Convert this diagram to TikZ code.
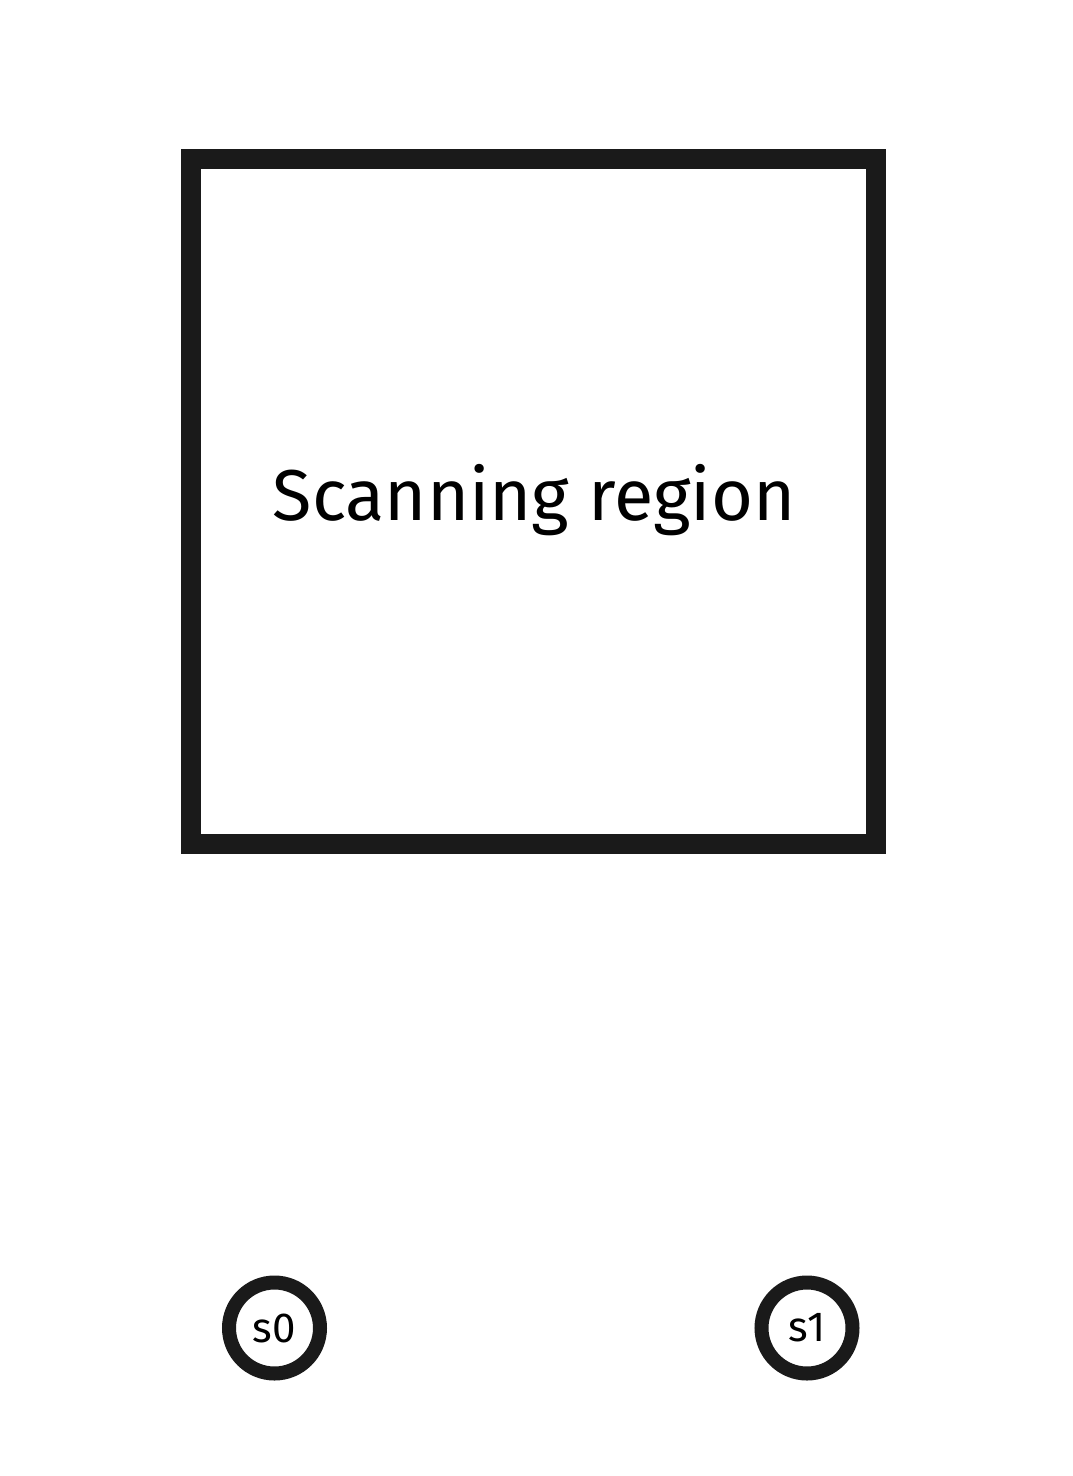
\documentclass[tikz,border=0pt]{standalone}
\usepackage{fontspec}
\setmainfont{Fira Sans}
\definecolor{ink}{HTML}{1A1A1A}
\begin{document}
\begin{tikzpicture}[x=1pt,y=-1pt,
  region/.style={draw=ink,line width=20pt,minimum width=685pt,minimum height=685pt,inner sep=0pt},
  sensor/.style={circle,draw=ink,line width=14pt,minimum size=91pt,inner sep=0pt,font=\fontsize{42}{48}\selectfont,text=black}]
\useasboundingbox[fill=white] (0,0) rectangle (1072,1476);
\node[region] (scan) at (533.5,501.5) {};
\node[font=\fontsize{72}{80}\selectfont,text=black] (lbl) at (534,500) {Scanning region};
\node[sensor] (s0) at (274.5,1328) {s0};
\node[sensor] (s1) at (807,1328) {s1};
\end{tikzpicture}
\end{document}
